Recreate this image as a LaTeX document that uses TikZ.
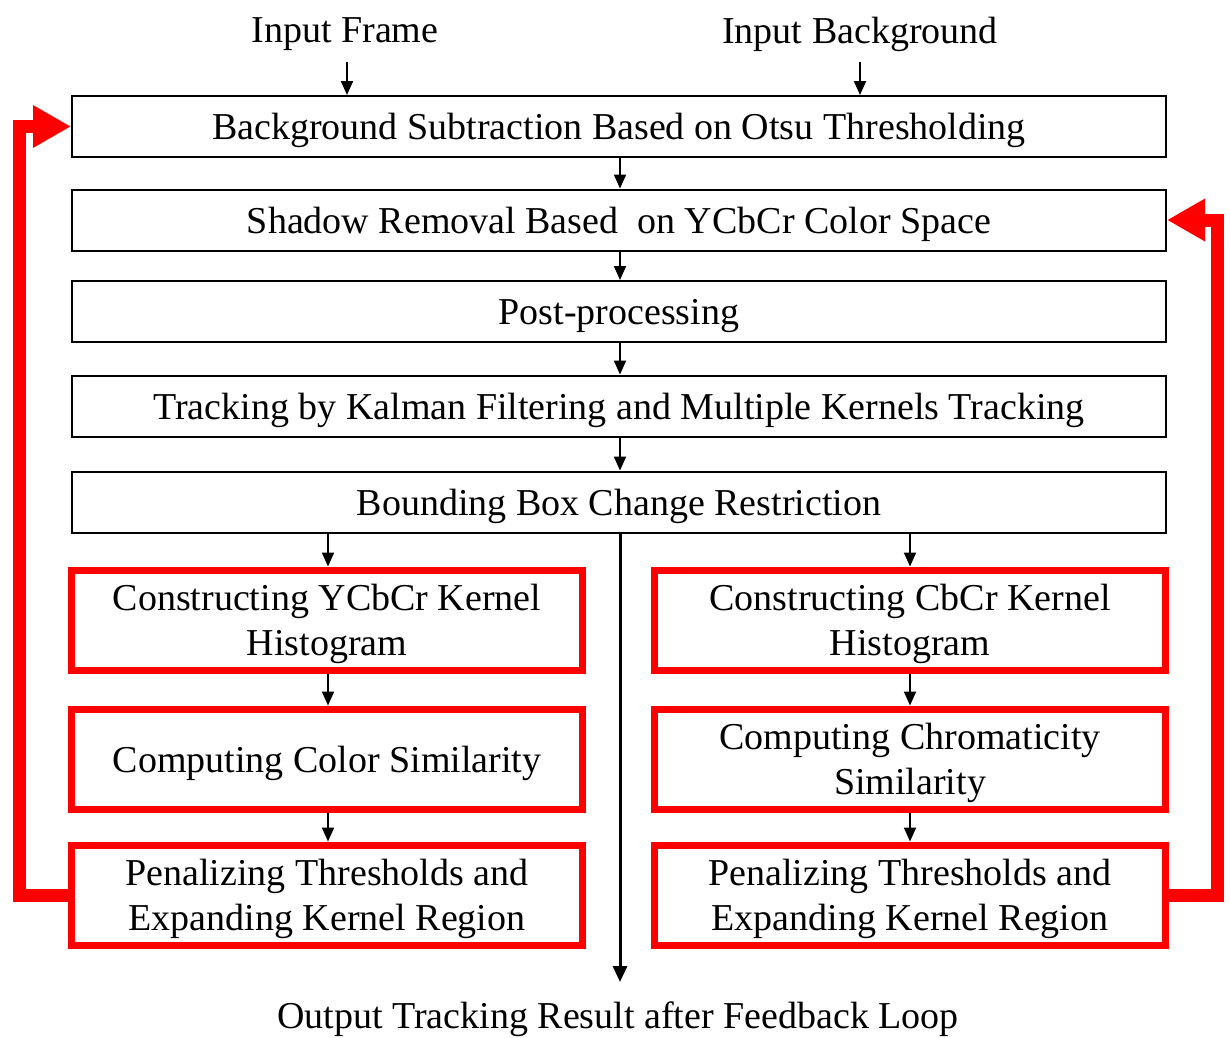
\documentclass[tikz,border=0pt]{standalone}
\usepackage{fontspec}
\setmainfont{Liberation Serif}
\usetikzlibrary{arrows.meta}
\begin{document}
\begin{tikzpicture}[x=1pt,y=-1pt,
  every node/.style={font=\fontsize{38}{45}\selectfont, align=center, text depth=-1pt},
  stage/.style={draw=black, line width=2pt, minimum width=1094pt, minimum height=61pt, inner sep=0pt},
  redstage/.style={draw=red, line width=7pt, minimum width=511pt, minimum height=100pt, inner sep=0pt},
  flow/.style={line width=2pt, -{Triangle[length=14pt,width=12pt]}},
  trunk/.style={line width=3pt, -{Triangle[length=16pt,width=14pt]}},
  feedback/.style={draw=red, line width=13pt, line join=miter, -{Triangle[length=38pt,width=40pt]}}
]
\useasboundingbox (0,0) rectangle (1230,1037);

% inputs
\node (inframe) at (345,30) {Input Frame};
\node (inback) at (860,30) {Input Background};
\coordinate (f0) at (347,62);
\coordinate (g0) at (860,62);

% main pipeline
\node[stage] (b1) at (619,126.5) {Background Subtraction Based on Otsu Thresholding};
\node[stage] (b2) at (619,220) {Shadow Removal Based\ \ on YCbCr Color Space};
\node[stage] (b3) at (619,311.5) {Post-processing};
\node[stage] (b4) at (619,406) {Tracking by Kalman Filtering and Multiple Kernels Tracking};
\node[stage] (b5) at (619,502) {Bounding Box Change Restriction};

% left branch
\node[redstage] (l1) at (327,620) {Constructing YCbCr Kernel\\Histogram};
\node[redstage] (l2) at (327,759) {Computing Color Similarity};
\node[redstage] (l3) at (327,895) {Penalizing Thresholds and\\Expanding Kernel Region};

% right branch
\node[redstage] (r1) at (910,620) {Constructing CbCr Kernel\\Histogram};
\node[redstage] (r2) at (910,759) {Computing Chromaticity\\Similarity};
\node[redstage] (r3) at (910,895) {Penalizing Thresholds and\\Expanding Kernel Region};

% output
\node (out) at (618,1015) {Output Tracking Result after Feedback Loop};
\coordinate (o0) at (620,982);

% arrows
\draw[flow] (f0) -- (f0 |- b1.north);
\draw[flow] (g0) -- (g0 |- b1.north);
\draw[flow] ([xshift=1pt]b1.south) -- ([xshift=1pt]b2.north);
\draw[flow] ([xshift=1pt]b2.south) -- ([xshift=1pt]b3.north);
\draw[flow] ([xshift=1pt]b3.south) -- ([xshift=1pt]b4.north);
\draw[flow] ([xshift=1pt]b4.south) -- ([xshift=1pt]b5.north);
\draw[flow] ([xshift=1pt]l1.north |- b5.south) -- ([xshift=1pt]l1.north);
\draw[flow] (r1.north |- b5.south) -- (r1.north);
\draw[flow] ([xshift=1pt]l1.south) -- ([xshift=1pt]l2.north);
\draw[flow] ([xshift=1pt]l2.south) -- ([xshift=1pt]l3.north);
\draw[flow] (r1.south) -- (r2.north);
\draw[flow] (r2.south) -- (r3.north);
\draw[trunk] ([xshift=1pt]b5.south) -- (o0);

% feedback loops
\draw[feedback] (l3.west) -- (19.5,895) -- (19.5,126.5) -- (b1.west);
\draw[feedback] (r3.east) -- (1217,895) -- (1217,220) -- (b2.east);
\end{tikzpicture}
\end{document}
